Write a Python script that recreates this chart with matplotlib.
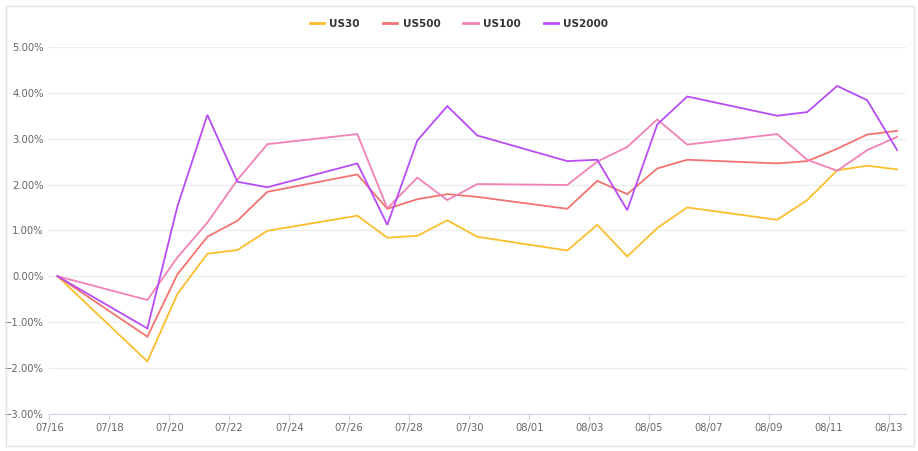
import datetime as dt
import matplotlib
matplotlib.use("Agg")
import matplotlib.pyplot as plt
import matplotlib.dates as mdates
import matplotlib.patches as mpatches
from matplotlib.ticker import FuncFormatter, MultipleLocator

# ---- data (cumulative % change) ----
dates = ["07-16", "07-19", "07-20", "07-21", "07-22", "07-23", "07-26", "07-27",
         "07-28", "07-29", "07-30", "08-02", "08-03", "08-04", "08-05", "08-06",
         "08-09", "08-10", "08-11", "08-12", "08-13"]

us30 = [0.00, -1.86, -0.39, 0.49, 0.57, 0.99, 1.32, 0.84, 0.88, 1.22, 0.86,
        0.56, 1.12, 0.43, 1.05, 1.50, 1.23, 1.66, 2.31, 2.41, 2.33]
us500 = [0.00, -1.32, 0.04, 0.86, 1.21, 1.84, 2.22, 1.47, 1.68, 1.79, 1.73,
         1.47, 2.08, 1.79, 2.35, 2.54, 2.46, 2.51, 2.78, 3.09, 3.17]
us100 = [0.00, -0.52, 0.41, 1.17, 2.10, 2.88, 3.10, 1.48, 2.15, 1.66, 2.01,
         1.99, 2.50, 2.82, 3.42, 2.87, 3.10, 2.54, 2.30, 2.75, 3.04]
us2000 = [0.00, -1.14, 1.52, 3.52, 2.06, 1.94, 2.46, 1.12, 2.96, 3.71, 3.07,
          2.51, 2.54, 1.44, 3.31, 3.92, 3.50, 3.58, 4.15, 3.84, 2.75]

tick_days = ["07-16", "07-18", "07-20", "07-22", "07-24", "07-26", "07-28", "07-30",
             "08-01", "08-03", "08-05", "08-07", "08-09", "08-11", "08-13"]

series = [("US30", us30, "#FBBF2D"),
          ("US500", us500, "#F2736F"),
          ("US100", us100, "#F281B6"),
          ("US2000", us2000, "#B84CF6")]

x = [dt.datetime.strptime("2021-" + d + " 06:30", "%Y-%m-%d %H:%M") for d in dates]
xt = [dt.datetime.strptime("2021-" + d, "%Y-%m-%d") for d in tick_days]

TXT = "#666666"
AXIS_C = "#CCD6EB"
GRID_C = "#EBEEF0"

fig = plt.figure(figsize=(9.18, 4.51), dpi=100)
ax = fig.add_axes([0.0537, 0.0827, 0.9329, 0.8131])

for name, vals, col in series:
    ax.plot(x, vals, color=col, lw=1.3, label=name, solid_joinstyle="miter")

ax.set_xlim(dt.datetime(2021, 7, 16), dt.datetime(2021, 8, 13, 13, 20))
ax.set_ylim(-3, 5)
ax.yaxis.set_major_locator(MultipleLocator(1))
ax.yaxis.set_major_formatter(FuncFormatter(lambda v, p: f"{v:.2f}%".replace("-", "\u2212")))
ax.set_xticks(xt)
ax.xaxis.set_major_formatter(mdates.DateFormatter("%m/%d"))

ax.grid(axis="y", color=GRID_C, lw=0.9)
ax.set_axisbelow(True)
for s in ["top", "right", "left"]:
    ax.spines[s].set_visible(False)
ax.spines["bottom"].set_color(AXIS_C)
ax.tick_params(axis="y", length=0, pad=4, labelsize=7.2, labelcolor=TXT)
ax.tick_params(axis="x", length=5, width=0.8, color=AXIS_C, pad=2,
               labelsize=7.2, labelcolor=TXT)

leg = fig.legend(loc="center", bbox_to_anchor=(0.5, 0.947), ncol=4, frameon=False,
                 handlelength=1.4, handletextpad=0.5, columnspacing=2.2,
                 prop={"weight": "bold", "size": 7.5})
for t in leg.get_texts():
    t.set_color("#333333")
for h in leg.get_lines():
    h.set_linewidth(2)

fig.patches.append(mpatches.Rectangle((5.5 / 918, 1 - 446 / 451), 908.5 / 918, 440.5 / 451,
                                      transform=fig.transFigure, fill=False,
                                      edgecolor="#DCE5E8", lw=1))

fig.savefig("out.png", dpi=100)
